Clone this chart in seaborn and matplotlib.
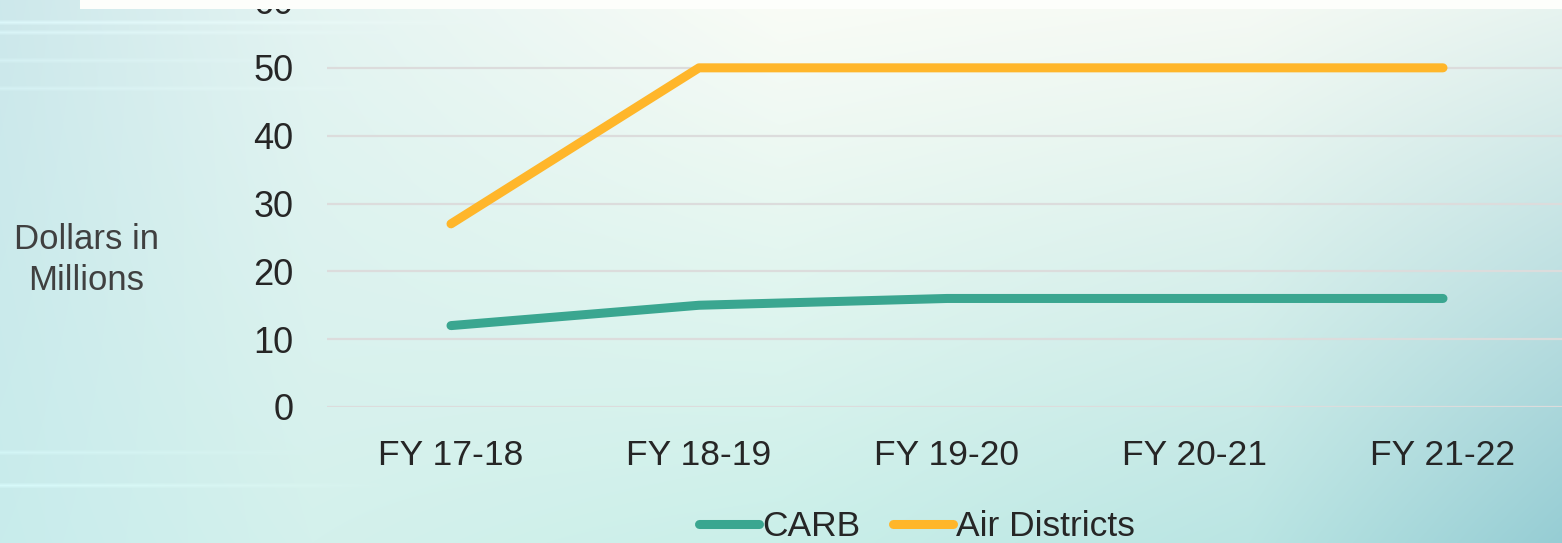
import numpy as np
import pandas as pd
import matplotlib
matplotlib.use("Agg")
import matplotlib.pyplot as plt
from matplotlib.lines import Line2D
from matplotlib.patches import Rectangle
import seaborn as sns

# chart data
fiscal_years = ["FY 17-18", "FY 18-19", "FY 19-20", "FY 20-21", "FY 21-22"]
carb = [12, 15, 16, 16, 16]
air_districts = [27, 50, 50, 50, 50]
series_names = ["CARB", "Air Districts"]
series_colors = ["#3aa690", "#ffb62a"]
y_ticks = [0, 10, 20, 30, 40, 50, 60]

W, H, DPI = 1562, 543, 100

df = pd.DataFrame({
    "Year": fiscal_years * 2,
    "Value": carb + air_districts,
    "Series": [series_names[0]] * len(carb) + [series_names[1]] * len(air_districts),
})

sns.set_theme(style="white")
plt.rcParams["font.family"] = ["Liberation Sans", "DejaVu Sans"]

fig = plt.figure(figsize=(W / DPI, H / DPI), dpi=DPI)

# soft teal background with a few faint horizontal streaks
u = np.linspace(0, 1, W)
v = np.linspace(0, 1, H)[:, None]
top_anchor = [0, 0.2, 0.5, 0.8, 1.0]
top_cols = np.array([[205, 232, 235], [228, 244, 242], [250, 252, 246], [246, 250, 244], [232, 244, 240]])
bot_cols = np.array([[200, 236, 236], [212, 241, 236], [202, 239, 233], [186, 229, 227], [150, 205, 212]])
img = np.zeros((H, W, 3))
for c in range(3):
    top = np.interp(u, top_anchor, top_cols[:, c])
    bot = np.interp(u, top_anchor, bot_cols[:, c])
    img[:, :, c] = top[None, :] * (1 - v) + bot[None, :] * v
for yy, strength, reach in [(22, 15, 0.3), (32, 12, 0.25), (60, 8, 0.2), (88, 8, 0.25),
                            (452, 10, 0.2), (485, 14, 0.25)]:
    fade = np.clip(1 - u / reach, 0, 1)
    for dy in range(-2, 3):
        if 0 <= yy + dy < H:
            img[yy + dy, :, :] += strength * fade[:, None] * (1 - abs(dy) / 3)
img = np.clip(img, 0, 255) / 255
bg = fig.add_axes([0, 0, 1, 1], zorder=-5)
bg.imshow(img, aspect="auto", interpolation="bilinear")
bg.axis("off")

ax = fig.add_axes([327 / W, (H - 407) / H, 1240 / W, 407 / H])
ax.patch.set_alpha(0)

sns.lineplot(data=df, x="Year", y="Value", hue="Series", palette=series_colors,
             linewidth=6.5, ax=ax, legend=False, sort=False)
for line in ax.get_lines():
    line.set_solid_capstyle("round")
    line.set_solid_joinstyle("round")

ax.set_xlim(-0.5, len(fiscal_years) - 0.5)
ax.set_ylim(0, 60)
ax.set_yticks(y_ticks)
ax.yaxis.grid(True, color="#dcdcdc", linewidth=1.6)
ax.xaxis.grid(False)
for s in ax.spines.values():
    s.set_visible(False)
ax.tick_params(axis="y", length=0, pad=24, labelsize=26, labelcolor="#262626")
ax.tick_params(axis="x", length=0, pad=23, labelsize=25.5, labelcolor="#262626")
ax.set_xlabel("")
ax.set_ylabel("Dollars in\nMillions", rotation=0, fontsize=25, color="#404040",
              ha="center", va="center", linespacing=1.3)
ax.yaxis.set_label_coords((86 - 327) / 1240, (407 - 260) / 407)

handles = [Line2D([0], [0], color=c, linewidth=6.5, solid_capstyle="round") for c in series_colors]
fig.legend(handles, series_names, loc="center", bbox_to_anchor=(917 / W, (H - 527) / H),
           ncol=2, frameon=False, fontsize=25.5, handlelength=1.7, handletextpad=0.1,
           columnspacing=0.9, labelcolor="#262626")

# white band along the top edge, as in the source slide
fig.add_artist(Rectangle((80 / W, (H - 9) / H), 1, 9 / H, transform=fig.transFigure,
                         facecolor="#fdfefb", edgecolor="none", zorder=10))

fig.savefig("out.png", dpi=DPI)
